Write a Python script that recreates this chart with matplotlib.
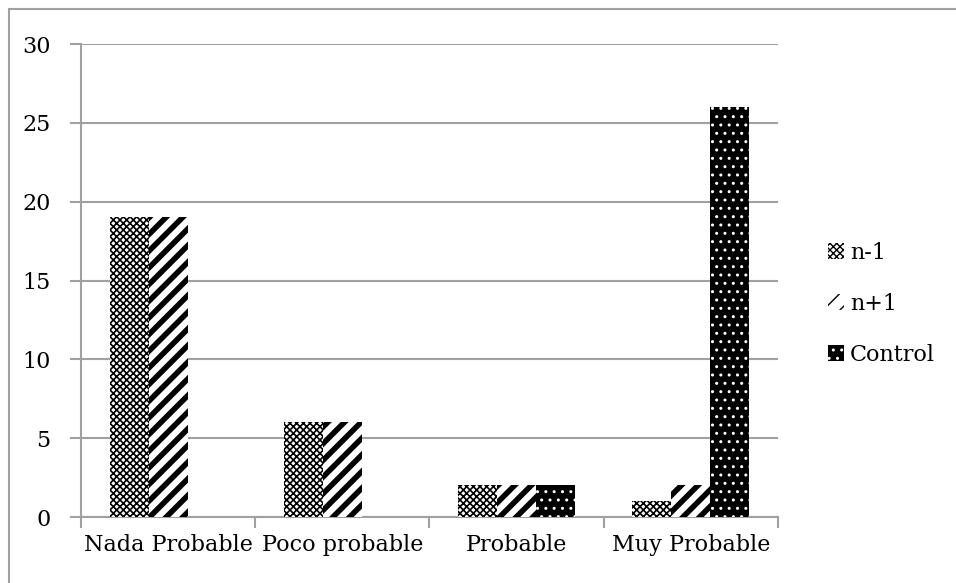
import matplotlib.pyplot as plt
from matplotlib.patches import Rectangle
import numpy as np

categorias = ['Nada Probable', 'Poco probable', 'Probable', 'Muy Probable']
n_menos_1 = [19, 6, 2, 1]
n_mas_1 = [19, 6, 2, 2]
control = [0, 0, 2, 26]
y_ticks = [0, 5, 10, 15, 20, 25, 30]

plt.rcParams['font.family'] = ['DejaVu Serif']
gris = '#a0a0a0'
fs = 16

fig = plt.figure(figsize=(9.56, 5.83), dpi=100)
ax = fig.add_axes([0.0847, 0.1132, 0.7291, 0.8113])

x = np.arange(len(categorias))
w = 0.224

def barras(pos, vals, label, face, edge, hatch, hlw):
    with plt.rc_context({'hatch.linewidth': hlw}):
        b = ax.bar(pos, vals, w, color=face, edgecolor=edge, hatch=hatch,
                   linewidth=0, label=label, zorder=3)
        for p in b.patches:
            if hasattr(p, 'set_hatch_linewidth'):
                p.set_hatch_linewidth(hlw)
    return b

barras(x - w, n_menos_1, 'n-1', 'white', 'black', 'xxxxx', 1.2)
barras(x, n_mas_1, 'n+1', 'white', 'black', '//', 4.0)
barras(x + w, control, 'Control', 'black', 'white', '..', 1.0)

ax.set_xlim(-0.5, len(categorias) - 0.5)
ax.set_ylim(0, 30)
ax.set_yticks(y_ticks)
ax.yaxis.grid(True, color=gris, linewidth=1.5, zorder=0)
ax.set_axisbelow(True)

# marcas del eje x en los limites de cada categoria
ax.set_xticks(np.arange(-0.5, len(categorias)), minor=False)
ax.set_xticklabels([])
ax.set_xticks(x, minor=True)
ax.set_xticklabels(categorias, minor=True)
ax.tick_params(axis='x', which='minor', length=0, pad=12, labelsize=fs)
ax.tick_params(axis='x', which='major', length=8, width=1.5, color=gris)
ax.tick_params(axis='y', length=8, width=1.5, color=gris, pad=14, labelsize=fs)

for s in ['top', 'right']:
    ax.spines[s].set_visible(False)
for s in ['left', 'bottom']:
    ax.spines[s].set_color(gris)
    ax.spines[s].set_linewidth(1.5)

ax.legend(loc='center left', bbox_to_anchor=(0.854, 0.479), bbox_transform=fig.transFigure,
          frameon=False, fontsize=fs, handlelength=0.75, handleheight=0.75,
          handletextpad=0.25, labelspacing=1.3, borderpad=0)

# marco exterior del grafico
fig.patches.append(Rectangle((9 / 956, -0.2), 1.2, 1.2 - 9 / 583, transform=fig.transFigure,
                             fill=False, edgecolor=gris, linewidth=1.5, clip_on=False))

fig.savefig('out.png', dpi=100)
